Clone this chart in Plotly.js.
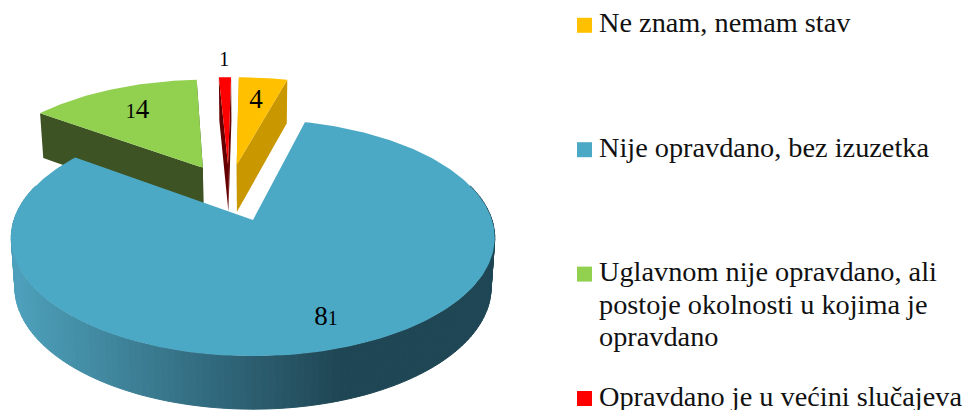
<!DOCTYPE html>
<html>
<head>
<meta charset="utf-8">
<script src="https://cdn.plot.ly/plotly-3.0.1.min.js"></script>
<style>html,body{margin:0;padding:0;background:#fff;overflow:hidden}#chart{width:964px;height:410px}</style>
</head>
<body>
<div id="chart"></div>
<script>
// Data
const categories = ["Ne znam, nemam stav", "Nije opravdano, bez izuzetka", "Uglavnom nije opravdano, ali\npostoje okolnosti u kojima je\nopravdano", "Opravdano je u većini slučajeva"];
const values = [4, 81, 14, 1];
const topColors = ["#FFC000", "#4BA9C5", "#92D050", "#FF0000"];
const sideColors = ["#C99700", "#1F4654", "#3E5323", "#650000"];

// Projection of the tilted, exploded pie onto axis units
const EXPLODE = 0.25, K = 0.15, RX = 239, RY = 115.7, CX = 253, CY = 220, DEPTH = 48.8;
const BACK_DU = -0.02, BACK_DV = 0.03;
const proj = (u, v, z) => {
  const s = 1 + K * v;
  return [CX + RX * u / s * (1 - 0.015 * z), CY - RY * v / s + z * DEPTH / (1 + 0.08 * v)];
};
const total = values.reduce((a, b) => a + b, 0);
let acc = 0;
const slices = values.map((val, i) => {
  const a0 = acc / total * 2 * Math.PI; acc += val;
  const a1 = acc / total * 2 * Math.PI;
  return {i, val, a0, a1, mid: (a0 + a1) / 2};
});
const ref = slices[1];
slices.forEach(s => {
  const back = s === ref ? 0 : 1;
  s.u = EXPLODE * (Math.sin(s.mid) - Math.sin(ref.mid)) + back * BACK_DU;
  s.v = EXPLODE * (Math.cos(s.mid) - Math.cos(ref.mid)) + back * BACK_DV;
});
const pt = (s, a, r, z) => proj(s.u + r * Math.sin(a), s.v + r * Math.cos(a), z);
const poly = (pts, color, lw) => ({
  type: "scatter", mode: "lines", x: pts.map(p => p[0]), y: pts.map(p => p[1]),
  fill: "toself", fillcolor: color, line: {color: color, width: lw || 0},
  hoverinfo: "skip", showlegend: false
});
const topFace = s => {
  const pts = [pt(s, 0, 0, 0)];
  const n = Math.max(4, Math.ceil((s.a1 - s.a0) / 0.02));
  for (let j = 0; j <= n; j++) pts.push(pt(s, s.a0 + (s.a1 - s.a0) * j / n, 1, 0));
  pts.push(pt(s, 0, 0, 0));
  return poly(pts, topColors[s.i]);
};
const cutFace = (s, a) => poly([pt(s, 0, 0, 0), pt(s, a, 1, 0), pt(s, a, 1, 1), pt(s, 0, 0, 1), pt(s, 0, 0, 0)], sideColors[s.i]);

const traces = [];
[slices[2], slices[3], slices[0]].forEach(s => {
  traces.push(cutFace(s, s.a0), cutFace(s, s.a1), topFace(s));
});

// Blue outer wall with a left-to-right shading
const lerpCol = t => {
  const a = [77, 160, 187], b = [31, 70, 84];
  const c = a.map((x, i) => Math.round(x + (b[i] - x) * t));
  return `rgb(${c[0]},${c[1]},${c[2]})`;
};
const b = slices[1];
const step = 1.5 * Math.PI / 180;
for (let a = Math.PI * 0.4; a < Math.PI * 1.6; a += step) {
  const p = [pt(b, a, 1, 0), pt(b, a + step, 1, 0), pt(b, a + step, 1, 1), pt(b, a, 1, 1), pt(b, a, 1, 0)];
  const xm = (p[0][0] + p[1][0]) / 2;
  const t = Math.min(1, Math.max(0, (xm - 15) / 325));
  traces.push(poly(p, lerpCol(t), 1));
}
traces.push(topFace(b));

// Value labels
const labelRadius = v => v < 2 ? 1.24 : (v < 50 ? 0.7 : 0.8);
const fmt = v => String(v).replace(/1/g, '<span style="font-size:20px">1</span>');
const lp = slices.map(s => pt(s, s.mid, labelRadius(s.val), 0));
traces.push({
  type: "scatter", mode: "text", x: lp.map(p => p[0]), y: lp.map(p => p[1]),
  text: values.map(fmt), textposition: "middle center",
  textfont: {family: "Liberation Serif, serif", size: 27, color: "#000"},
  hoverinfo: "skip", showlegend: false, cliponaxis: false
});

// Legend
const LEG_X = 584.5, LEG_TEXT_X = 599, LEG_Y0 = 25.3, LEG_DY = 124.4, LINE_DY = 32.5;
traces.push({
  type: "scatter", mode: "markers",
  x: categories.map(() => LEG_X), y: categories.map((c, i) => LEG_Y0 + i * LEG_DY),
  marker: {symbol: "square", size: 15, color: topColors, line: {width: 0}},
  hoverinfo: "skip", showlegend: false, cliponaxis: false
});
const lx = [], ly = [], lt = [];
categories.forEach((c, i) => c.split("\n").forEach((line, j) => {
  lx.push(LEG_TEXT_X); ly.push(LEG_Y0 + i * LEG_DY + j * LINE_DY); lt.push(line);
}));
traces.push({
  type: "scatter", mode: "text", x: lx, y: ly, text: lt, textposition: "middle right",
  textfont: {family: "Liberation Serif, serif", size: 28.3, color: "#111"},
  hoverinfo: "skip", showlegend: false, cliponaxis: false
});

Plotly.newPlot("chart", traces, {
  width: 964, height: 410, margin: {l: 0, r: 0, t: 0, b: 0},
  paper_bgcolor: "#fff", plot_bgcolor: "#fff", showlegend: false,
  xaxis: {range: [0, 964], visible: false, fixedrange: true},
  yaxis: {range: [410, 0], visible: false, fixedrange: true}
}, {staticPlot: true, displayModeBar: false});
</script>
</body>
</html>
